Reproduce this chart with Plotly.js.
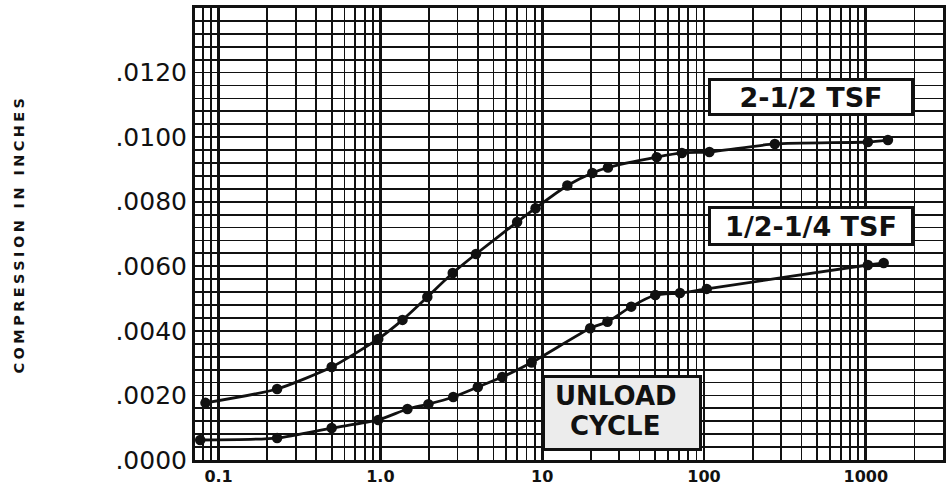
<!DOCTYPE html>
<html>
<head>
<meta charset="utf-8">
<script src="https://cdn.plot.ly/plotly-3.0.1.min.js"></script>
<style>
  html, body { margin: 0; padding: 0; background: #fff; }
  #chart { width: 951px; height: 492px; }
  .ytitle { letter-spacing: 3.4px; }
</style>
</head>
<body>
<div id="chart"></div>
<script>
// Time (log scale) values and compression readings
const loadTime = [0.083, 0.23, 0.5, 0.97, 1.37, 1.95, 2.8, 3.9, 7.0, 9.1, 14.3, 20.4, 25.5, 51, 73, 108, 274, 1030, 1370];
const loadComp = [0.00177, 0.00220, 0.00288, 0.00375, 0.00434, 0.00505, 0.00579, 0.00638, 0.00737, 0.00780, 0.00850, 0.00889, 0.00906, 0.00938, 0.00951, 0.00954, 0.00979, 0.00985, 0.00991];

const unloadTime = [0.077, 0.23, 0.5, 0.97, 1.47, 1.98, 2.82, 4.0, 5.66, 8.6, 19.8, 25.3, 35.5, 50, 71, 104, 1030, 1290];
const unloadComp = [0.00062, 0.00068, 0.00099, 0.00124, 0.00158, 0.00173, 0.00195, 0.00226, 0.00257, 0.00302, 0.00408, 0.00428, 0.00475, 0.00511, 0.00517, 0.00530, 0.00604, 0.00610];

const xTickVals = [0.1, 1, 10, 100, 1000];
const xTickText = ['0.1', '1.0', '10', '100', '1000'];
const yTickVals = [0, 0.002, 0.004, 0.006, 0.008, 0.010, 0.012];
const yTickText = ['.0000', '.0020', '.0040', '.0060', '.0080', '.0100', '.0120'];

const labelLoad = '2-1/2 TSF';
const labelUnload = '1/2-1/4 TSF';
const labelCycle1 = 'UNLOAD';
const labelCycle2 = 'CYCLE';
const yTitle = 'COMPRESSION IN INCHES';

const lineStyle = {color: '#111', width: 2.8, shape: 'spline', smoothing: 0.6};
const markerStyle = {color: '#111', size: 10.5};

const traces = [
  {x: loadTime, y: loadComp, type: 'scatter', mode: 'lines+markers', name: labelLoad,
   line: lineStyle, marker: markerStyle, cliponaxis: false},
  {x: unloadTime, y: unloadComp, type: 'scatter', mode: 'lines+markers', name: labelUnload,
   line: lineStyle, marker: markerStyle, cliponaxis: false}
];

const bold = {family: 'DejaVu Sans', weight: 'bold', color: '#111'};

const layout = {
  width: 951, height: 492,
  margin: {l: 195, r: 8, t: 8, b: 32},
  paper_bgcolor: '#fff', plot_bgcolor: '#fff',
  showlegend: false,
  xaxis: {
    type: 'log',
    range: [Math.log10(0.0715), Math.log10(3000)],
    tickmode: 'array', tickvals: xTickVals, ticktext: xTickText,
    ticks: '',
    tickfont: Object.assign({size: 16}, bold),
    showgrid: true, gridcolor: '#111', gridwidth: 2.8,
    minor: {dtick: 'D1', showgrid: true, gridcolor: '#111', gridwidth: 1.8},
    showline: true, linecolor: '#111', linewidth: 3, mirror: true,
    zeroline: false
  },
  yaxis: {
    range: [0, 0.014],
    tickmode: 'array', tickvals: yTickVals, ticktext: yTickText,
    ticks: '',
    tickfont: {family: 'DejaVu Sans', size: 25, color: '#111'},
    showgrid: true, gridcolor: '#111', gridwidth: 1.8,
    minor: {dtick: 0.0004, showgrid: true, gridcolor: '#111', gridwidth: 1.8},
    showline: true, linecolor: '#111', linewidth: 3, mirror: true,
    zeroline: false,
    title: {text: yTitle, font: Object.assign({size: 14.5}, bold), standoff: 88}
  },
  annotations: [
    {xref: 'paper', yref: 'paper', x: 0.823, y: 0.802, xanchor: 'center', yanchor: 'middle',
     text: labelLoad, showarrow: false, font: Object.assign({size: 27}, bold),
     bgcolor: '#fff', bordercolor: '#111', borderwidth: 3, borderpad: 2, width: 196, height: 28},
    {xref: 'paper', yref: 'paper', x: 0.823, y: 0.518, xanchor: 'center', yanchor: 'middle',
     text: labelUnload, showarrow: false, font: Object.assign({size: 27}, bold),
     bgcolor: '#fff', bordercolor: '#111', borderwidth: 3, borderpad: 2, width: 196, height: 30},
    {xref: 'paper', yref: 'paper', x: 0.5715, y: 0.105, xanchor: 'center', yanchor: 'middle',
     text: ' ', showarrow: false, font: {size: 10},
     bgcolor: '#ececec', bordercolor: '#111', borderwidth: 3, borderpad: 0, width: 154, height: 70},
    {xref: 'paper', yref: 'paper', x: 0.5631, y: 0.141, xanchor: 'center', yanchor: 'middle',
     text: labelCycle1, showarrow: false, font: Object.assign({size: 26}, bold)},
    {xref: 'paper', yref: 'paper', x: 0.5615, y: 0.075, xanchor: 'center', yanchor: 'middle',
     text: labelCycle2, showarrow: false, font: Object.assign({size: 26}, bold)}
  ]
};

Plotly.newPlot('chart', traces, layout, {displayModeBar: false, staticPlot: true});
</script>
</body>
</html>
